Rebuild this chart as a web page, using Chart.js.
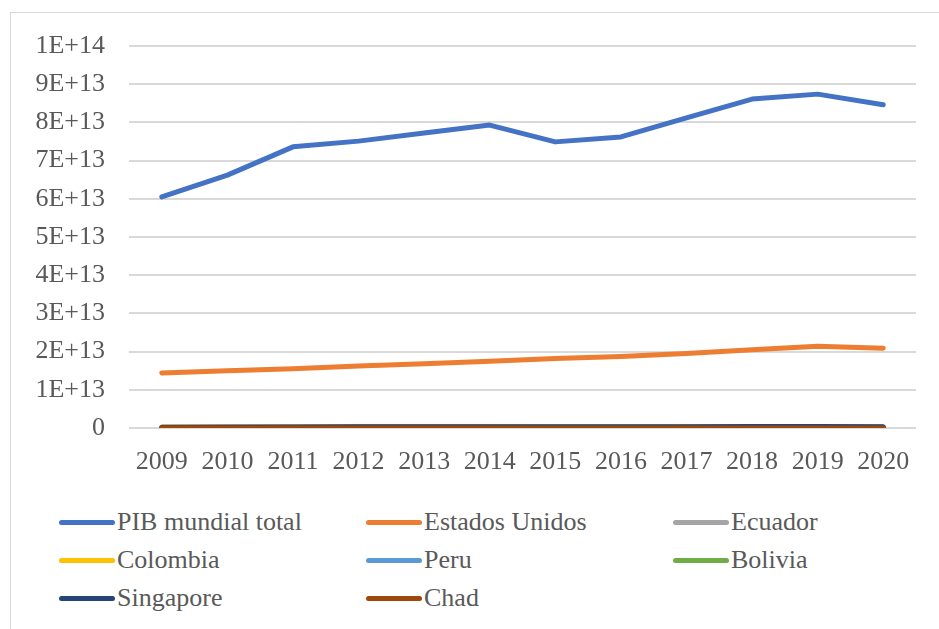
<!DOCTYPE html>
<html>
<head>
<meta charset="utf-8">
<script src="https://cdn.jsdelivr.net/npm/chart.js@4"></script>
<style>
  body { margin: 0; background: #fff; width: 939px; height: 629px; overflow: hidden; position: relative; font-family: "Liberation Serif", "Times New Roman", serif; }
  #marco { position: absolute; left: 10px; top: 12px; width: 940px; height: 640px; border-left: 1px solid #d9d9d9; border-top: 1px solid #d9d9d9; }
  #caja { position: absolute; left: 11px; top: 13px; width: 928px; height: 478px; }
  .ley { position: absolute; display: flex; align-items: center; font-size: 26px; color: #595959; white-space: nowrap; }
  .ley span.linea { display: inline-block; width: 56px; height: 5px; border-radius: 3px; margin-right: 2px; }
</style>
</head>
<body>
<div id="marco"></div>
<div id="caja"><canvas id="grafico"></canvas></div>
<div id="leyenda"></div>
<script>
// Años y series (en US$)
const anios = ["2009", "2010", "2011", "2012", "2013", "2014", "2015", "2016", "2017", "2018", "2019", "2020"];
const pibMundial = [6.05e13, 6.62e13, 7.36e13, 7.51e13, 7.72e13, 7.93e13, 7.49e13, 7.62e13, 8.12e13, 8.61e13, 8.74e13, 8.46e13];
const estadosUnidos = [1.44e13, 1.50e13, 1.55e13, 1.62e13, 1.68e13, 1.75e13, 1.82e13, 1.87e13, 1.95e13, 2.05e13, 2.14e13, 2.09e13];
const ecuador = [6.25e10, 6.96e10, 7.93e10, 8.80e10, 9.51e10, 1.017e11, 9.93e10, 9.99e10, 1.043e11, 1.076e11, 1.081e11, 9.93e10];
const colombia = [2.325e11, 2.865e11, 3.354e11, 3.697e11, 3.821e11, 3.812e11, 2.935e11, 2.827e11, 3.119e11, 3.342e11, 3.230e11, 2.703e11];
const peru = [1.208e11, 1.475e11, 1.718e11, 1.926e11, 2.012e11, 2.008e11, 1.898e11, 1.919e11, 2.110e11, 2.226e11, 2.283e11, 2.055e11];
const bolivia = [1.73e10, 1.96e10, 2.39e10, 2.71e10, 3.07e10, 3.29e10, 3.30e10, 3.39e10, 3.75e10, 4.03e10, 4.12e10, 3.66e10];
const singapore = [1.942e11, 2.398e11, 2.794e11, 2.951e11, 3.076e11, 3.149e11, 3.080e11, 3.188e11, 3.433e11, 3.769e11, 3.755e11, 3.453e11];
const chad = [9.3e9, 1.07e10, 1.22e10, 1.25e10, 1.31e10, 1.39e10, 1.10e10, 1.01e10, 1.04e10, 1.13e10, 1.13e10, 1.07e10];
const marcasY = ["0", "1E+13", "2E+13", "3E+13", "4E+13", "5E+13", "6E+13", "7E+13", "8E+13", "9E+13", "1E+14"];

const series = [
    { nombre: "PIB mundial total", datos: pibMundial, color: "#4472c4" },
    { nombre: "Estados Unidos", datos: estadosUnidos, color: "#ed7d31" },
    { nombre: "Ecuador", datos: ecuador, color: "#a5a5a5" },
    { nombre: "Colombia", datos: colombia, color: "#ffc000" },
    { nombre: "Peru", datos: peru, color: "#5b9bd5" },
    { nombre: "Bolivia", datos: bolivia, color: "#70ad47" },
    { nombre: "Singapore", datos: singapore, color: "#264478" },
    { nombre: "Chad", datos: chad, color: "#9e480e" },
];

const gris = "#595959";
const fuente = { family: "'Liberation Serif', 'Times New Roman', serif", size: 26 };

new Chart(document.getElementById("grafico"), {
    type: "line",
    data: {
        labels: anios,
        datasets: series.map((s, i) => ({
            label: s.nombre,
            data: s.datos,
            borderColor: s.color,
            backgroundColor: s.color,
            borderWidth: 5,
            pointRadius: 0,
            tension: 0,
            borderCapStyle: "round",
            borderJoinStyle: "round",
            fill: false,
            order: series.length - i, // como Excel: la última serie queda encima
        })),
    },
    options: {
        responsive: true,
        maintainAspectRatio: false,
        animation: false,
        layout: { padding: { top: 33, right: 23, left: 0, bottom: 0 } },
        plugins: { legend: { display: false }, tooltip: { enabled: false } },
        scales: {
            x: {
                offset: true,
                grid: { display: false, drawTicks: false },
                border: { display: false },
                ticks: { color: gris, font: fuente, padding: 19, maxRotation: 0, autoSkip: false },
                afterFit: (s) => { s.height = 63; s.paddingLeft = 0; s.paddingRight = 0; },
            },
            y: {
                min: 0,
                max: 1e14,
                grid: { color: "#d9d9d9", lineWidth: 2, drawTicks: false },
                border: { display: false },
                ticks: {
                    stepSize: 1e13,
                    color: gris,
                    font: fuente,
                    padding: 24,
                    callback: (v, i) => marcasY[i],
                },
                afterFit: (s) => { s.width = 118; s.paddingTop = 0; s.paddingBottom = 0; },
            },
        },
    },
});

// Leyenda en tres columnas, como la del original
const leyenda = document.getElementById("leyenda");
const columnas = [59, 366, 673];
const filas = [523, 561, 599];
series.forEach((s, i) => {
    const item = document.createElement("div");
    item.className = "ley";
    item.style.left = columnas[i % 3] + "px";
    item.style.top = (filas[Math.floor(i / 3)] - 16) + "px";
    item.innerHTML = `<span class="linea" style="background:${s.color}"></span>${s.nombre}`;
    leyenda.appendChild(item);
});
</script>
</body>
</html>
